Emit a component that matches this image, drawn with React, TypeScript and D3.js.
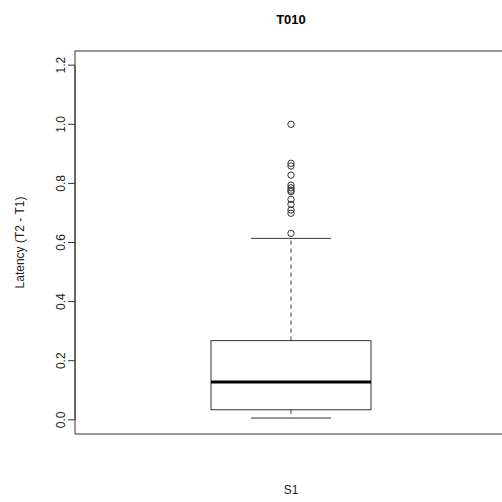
import React from "react";
import * as d3 from "d3";

const title = "T010";
const yLabel = "Latency (T2 - T1)";
const xLabel = "S1";
const yTicks = [0.0, 0.2, 0.4, 0.6, 0.8, 1.0, 1.2];
// box summary: lower whisker, Q1, median, Q3, upper whisker
const whiskerLow = [0.006];
const quartiles = [0.034, 0.128, 0.268];
const whiskerHigh = [0.614];
const outliers = [1.0, 0.868, 0.859, 0.828, 0.794, 0.785, 0.777, 0.772, 0.746, 0.729, 0.71, 0.699, 0.631];

export default function App() {
  const W = 502, H = 502;
  const y = d3.scaleLinear().domain([-0.048, 1.248]).range([434, 51]);
  const x = d3.scaleLinear().domain([0.46, 1.54]).range([75, 507]);
  const cx = x(1);
  const bl = x(0.8), br = x(1.2);
  const sl = x(0.9), sr = x(1.1);
  const [q1, med, q3] = quartiles;
  const font = "Liberation Sans, Arial, Helvetica, sans-serif";
  const lc = "#333";
  return (
    <svg width={W} height={H} style={{ position: "absolute", left: 0, top: 0, background: "#fff" }} fontFamily={font}>
      <rect x={x(0.46)} y={y(1.248)} width={x(1.54) - x(0.46)} height={y(-0.048) - y(1.248)} fill="none" stroke={lc} strokeWidth={1} />
      {/* y axis */}
      <line x1={75} x2={75} y1={y(0)} y2={y(1.2)} stroke={lc} />
      {yTicks.map((t) => (
        <g key={t}>
          <line x1={68} x2={75} y1={y(t)} y2={y(t)} stroke={lc} />
          <text transform={`translate(61,${y(t)}) rotate(-90)`} textAnchor="middle" dominantBaseline="central" fontSize={12} fill="#222">
            {t.toFixed(1)}
          </text>
        </g>
      ))}
      {/* whiskers */}
      <line x1={cx} x2={cx} y1={y(q3)} y2={y(whiskerHigh[0])} stroke={lc} strokeDasharray="4,4" />
      <line x1={cx} x2={cx} y1={y(q1)} y2={y(whiskerLow[0])} stroke={lc} strokeDasharray="4,4" />
      <line x1={sl} x2={sr} y1={y(whiskerHigh[0])} y2={y(whiskerHigh[0])} stroke={lc} />
      <line x1={sl} x2={sr} y1={y(whiskerLow[0])} y2={y(whiskerLow[0])} stroke={lc} />
      {/* box */}
      <rect x={bl} y={y(q3)} width={br - bl} height={y(q1) - y(q3)} fill="none" stroke={lc} />
      <line x1={bl} x2={br} y1={y(med)} y2={y(med)} stroke="#000" strokeWidth={3} />
      {outliers.map((o, i) => (
        <circle key={i} cx={cx} cy={y(o)} r={3.2} fill="none" stroke={lc} strokeWidth={1} />
      ))}
      <text x={cx} y={24} textAnchor="middle" fontSize={13} fontWeight="bold" fill="#000">{title}</text>
      <text transform={`translate(20,${(y(-0.048) + y(1.248)) / 2}) rotate(-90)`} textAnchor="middle" dominantBaseline="central" fontSize={12} fill="#222">
        {yLabel}
      </text>
      <text x={cx} y={494} textAnchor="middle" fontSize={12} fill="#222">{xLabel}</text>
    </svg>
  );
}
